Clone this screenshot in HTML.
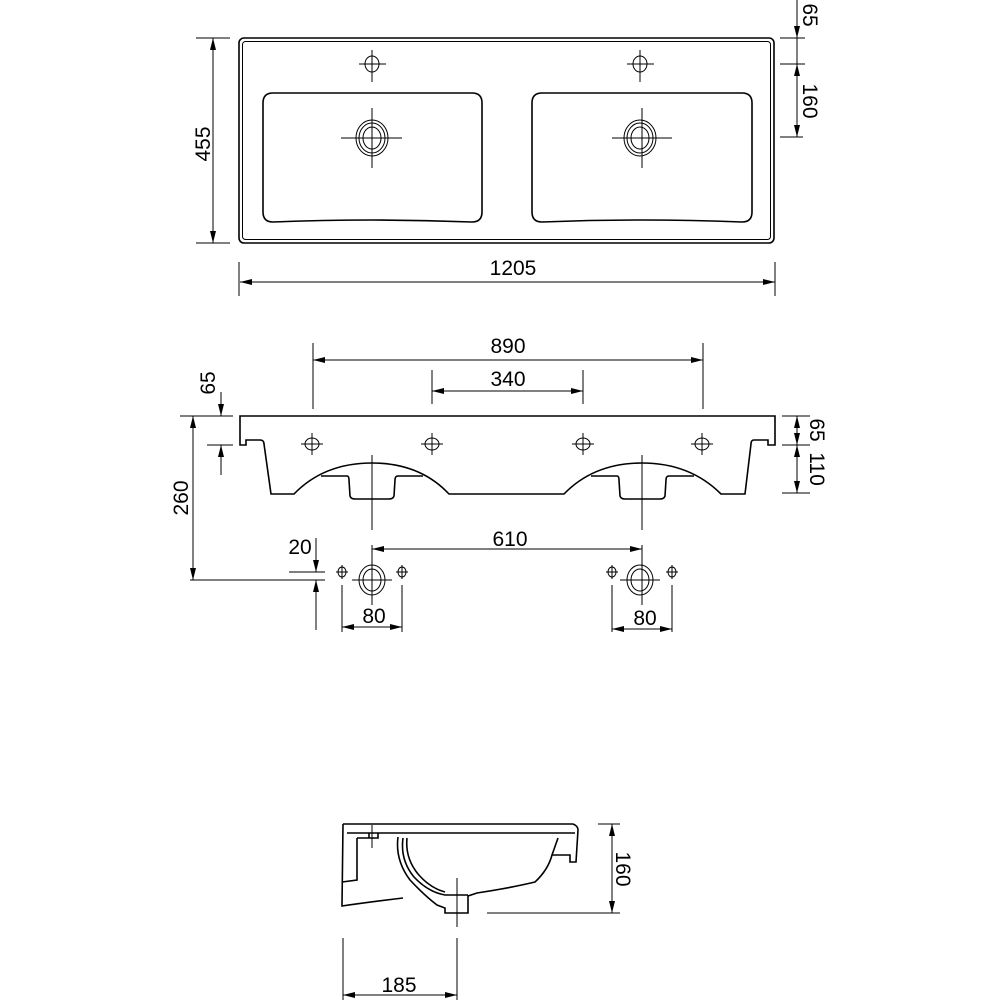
<!DOCTYPE html>
<html><head><style>html,body{margin:0;padding:0;background:#fff}svg{display:block}</style></head>
<body>
<svg width="1000" height="1000" viewBox="0 0 1000 1000" xmlns="http://www.w3.org/2000/svg" font-family="Liberation Sans, sans-serif" font-size="21" fill="none">
<defs>
<marker id="a" viewBox="0 0 12 6" refX="12" refY="3" markerWidth="12" markerHeight="6" orient="auto-start-reverse" markerUnits="userSpaceOnUse"><path d="M0,0L12,3L0,6z" fill="#000"/></marker>
</defs>
<g stroke="#000" stroke-width="1.6">
<rect x="239" y="38" width="535" height="205" rx="5"/>
<rect x="242.5" y="41.5" width="528" height="198" rx="3" stroke-width="1"/>
<path d="M273,93 L472,93 Q482,93 482,103 L482,212 Q482,222 472,222 Q372,218 273,222 Q263,222 263,212 L263,103 Q263,93 273,93Z"/>
<path d="M542,93 L742,93 Q752,93 752,103 L752,212 Q752,222 742,222 Q642,218 542,222 Q532,222 532,212 L532,103 Q532,93 542,93Z"/>
</g>
<g stroke="#000" stroke-width="1">
<ellipse cx="372" cy="64" rx="7" ry="8"/><path d="M359,64H386M372,50V82"/>
<ellipse cx="640" cy="64" rx="7" ry="8"/><path d="M627,64H654M640,50V82"/>
<ellipse cx="372" cy="138" rx="16" ry="18"/><ellipse cx="372" cy="138" rx="13" ry="15"/><ellipse cx="372" cy="138" rx="9" ry="11"/><path d="M341,138H402M372,108V168"/>
<ellipse cx="640" cy="138" rx="16" ry="18"/><ellipse cx="640" cy="138" rx="13" ry="15"/><ellipse cx="640" cy="138" rx="9" ry="11"/><path d="M612,138H672M642,108V168"/>
<path d="M196,38H230M196,243H230"/>
<path d="M213,38V243" marker-start="url(#a)" marker-end="url(#a)"/>
<path d="M239,262V296M775,262V296"/>
<path d="M240,282H775" marker-start="url(#a)" marker-end="url(#a)"/>
<path d="M780,38H805M780,64H805M780,137H803"/>
<path d="M797,0V38" marker-end="url(#a)"/>
<path d="M797,64V137" marker-start="url(#a)" marker-end="url(#a)"/>
<path d="M797,38V64"/>
</g>
<g fill="#000" stroke="none">
<text x="513" y="275" text-anchor="middle">1205</text>
<text transform="translate(210,144) rotate(-90)" text-anchor="middle">455</text>
<text transform="translate(803,15) rotate(90)" text-anchor="middle">65</text>
<text transform="translate(803,101) rotate(90)" text-anchor="middle">160</text>
</g>

<g stroke="#000" stroke-width="1.6">
<path d="M240,445 L240,416 L775,416 L775,445 L768,445 L768,440 L754,440 Q751,440 751,444 L745,494 L721,494 Q690,463 642,463 Q594,463 564,494 L449,494 Q420,463 372,463 Q324,463 294,494 L271,494 L264,444 Q264,440 260,440 L246,440 L246,445 Z"/>
<path d="M321,476 L347,476 Q349,476 349,480 L350,496 Q351,499 355,499 L389,499 Q393,499 394,496 L395,480 Q395,476 398,476 L423,476"/>
<path d="M591,476 L617,476 Q619,476 619,480 L620,496 Q621,499 625,499 L660,499 Q664,499 665,496 L666,480 Q666,476 669,476 L694,476"/>
</g>
<g stroke="#000" stroke-width="1">
<g id="h"><ellipse cx="312" cy="444" rx="7" ry="6"/><path d="M301,444H323M312,433V455"/></g>
<use href="#h" x="120"/><use href="#h" x="271"/><use href="#h" x="390"/>
<path d="M372,455V530M642,455V530"/>
<path d="M313,343V409M703,343V409"/>
<path d="M313,360H703" marker-start="url(#a)" marker-end="url(#a)"/>
<path d="M432,370V404M583,370V404"/>
<path d="M432,391H583" marker-start="url(#a)" marker-end="url(#a)"/>
<path d="M180,416H233M207,445H233"/>
<path d="M221,392V416" marker-end="url(#a)"/>
<path d="M221,475V445" marker-end="url(#a)"/>
<path d="M193,416V580" marker-start="url(#a)" marker-end="url(#a)"/>
<path d="M190,580H325M289,572H325"/>
<path d="M316,538V572" marker-end="url(#a)"/>
<path d="M316,630V580" marker-end="url(#a)"/>
<path d="M782,416H810M782,445H810M782,493H810"/>
<path d="M797,416V445" marker-start="url(#a)" marker-end="url(#a)"/>
<path d="M797,445V493" marker-start="url(#a)" marker-end="url(#a)"/>
<path d="M372,545V560M642,545V560"/>
<path d="M372,549H642" marker-start="url(#a)" marker-end="url(#a)"/>
<ellipse cx="372" cy="580" rx="13" ry="15"/><ellipse cx="372" cy="580" rx="9" ry="11"/><path d="M352,580H392M372,560V605"/>
<ellipse cx="640" cy="580" rx="13" ry="15"/><ellipse cx="640" cy="580" rx="9" ry="11"/><path d="M620,580H660M642,560V605"/>
<g id="s"><ellipse cx="342" cy="572" rx="4" ry="5"/><path d="M336,572H348M342,565V579"/></g>
<use href="#s" x="60"/><use href="#s" x="270"/><use href="#s" x="330"/>
<path d="M342,585V632M402,585V632M612,585V632M672,585V632"/>
<path d="M342,627H402" marker-start="url(#a)" marker-end="url(#a)"/>
<path d="M612,629H672" marker-start="url(#a)" marker-end="url(#a)"/>
</g>
<g fill="#000" stroke="none">
<text x="508" y="353" text-anchor="middle">890</text>
<text x="508" y="386" text-anchor="middle">340</text>
<text x="510" y="546" text-anchor="middle">610</text>
<text x="300" y="554" text-anchor="middle">20</text>
<text x="374" y="623" text-anchor="middle">80</text>
<text x="645" y="625" text-anchor="middle">80</text>
<text transform="translate(215,383) rotate(-90)" text-anchor="middle">65</text>
<text transform="translate(188,498) rotate(-90)" text-anchor="middle">260</text>
<text transform="translate(810,430) rotate(90)" text-anchor="middle">65</text>
<text transform="translate(810,469) rotate(90)" text-anchor="middle">110</text>
</g>

<g stroke="#000" stroke-width="1.6">
<path d="M343,824 L573,824 Q578,826 578,830 L576,862 L570,862 L570,855 L552,855"/>
<path d="M343,824 L342,906 Q370,902 403,898"/>
<path d="M347,833 L575,833"/>
<path d="M357,838 L369,838 L369,833 M369,838 L378,838 L378,833"/>
<path d="M357,838 L357,880 L342,882"/>
<path d="M398,837 Q395,860 410,880 Q425,896 437,905 L445,908 L445,913 L468,913 L468,896 L477,893 Q510,888 535,882 Q548,870 552,855 L558,838"/>
<path d="M403,838 Q400,860 414,877 Q428,892 445,895 L468,895"/>
<path d="M407,838 Q405,858 418,874 Q430,888 445,892"/>
</g>
<g stroke="#000" stroke-width="1">
<path d="M372,825V848M457,878V927"/>
<path d="M487,913H620M598,824H620"/>
<path d="M612,824V913" marker-start="url(#a)" marker-end="url(#a)"/>
<path d="M343,938V1000M457,938V1000"/>
<path d="M343,995H457" marker-start="url(#a)" marker-end="url(#a)"/>
</g>
<g fill="#000" stroke="none">
<text x="399" y="992" text-anchor="middle">185</text>
<text transform="translate(616,869) rotate(90)" text-anchor="middle">160</text>
</g>
</svg>
</body></html>
